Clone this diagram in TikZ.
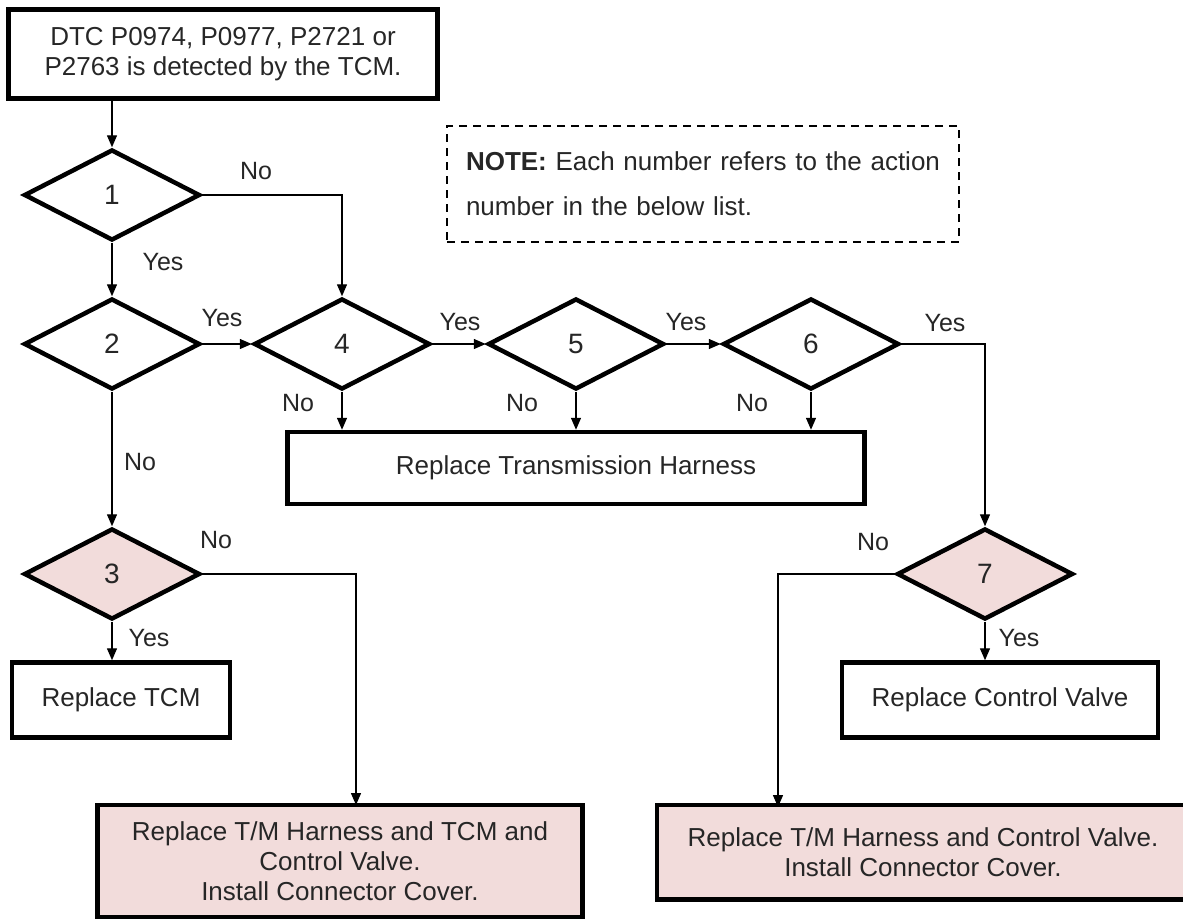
\documentclass[tikz,border=0pt]{standalone}
\usepackage{fontspec}
\setmainfont{Liberation Sans}
\usepackage{tikz}
\usetikzlibrary{shapes.geometric,arrows.meta}

\definecolor{rosa}{RGB}{242,220,219}
\definecolor{schrift}{RGB}{38,38,38}

\begin{document}
\begin{tikzpicture}[x=1pt,y=-1pt,
		font=\fontsize{26}{30}\selectfont,
		text=schrift,
		box/.style={draw,line width=4.5pt,inner sep=2pt,align=center},
		decision/.style={diamond,draw,line width=4.5pt,minimum width=176,minimum height=91,inner sep=0pt,font=\fontsize{28}{30}\selectfont},
		arr/.style={line width=1.4pt,-{Triangle[width=10pt,length=12pt]}},
		lbl/.style={font=\fontsize{25}{30}\selectfont}]
		
		%start
		\node[box,minimum width=429,minimum height=89] (start) at (223,54) {DTC P0974, P0977, P2721 or\\P2763 is detected by the TCM.};
		
		%note
		\node[draw,dashed,dash pattern=on 8pt off 6pt,line width=1.4pt,minimum width=512,minimum height=116,
			text width=474,inner xsep=19pt,align=left,font=\fontsize{26}{45}\selectfont] (note) at (703,184)
			{\textbf{NOTE:} Each number refers to the action\\number in the below list.};
		
		%decisions
		\foreach \i/\x/\y in {1/112/195,2/112/344,4/342/344,5/576/344,6/811/344}
		{
			\node[decision] (d\i) at (\x,\y) {\i};
		}
		\node[decision,fill=rosa] (d3) at (112,574) {3};
		\node[decision,fill=rosa] (d7) at (985,574) {7};
		
		%actions
		\node[box,minimum width=577,minimum height=72] (harness) at (576,468) {Replace Transmission Harness};
		\node[box,minimum width=218,minimum height=75] (tcm) at (121,700) {Replace TCM};
		\node[box,minimum width=316,minimum height=75] (cv) at (1000,700) {Replace Control Valve};
		\node[box,fill=rosa,minimum width=485,minimum height=112] (all1) at (340,861) {Replace T/M Harness and TCM and\\Control Valve.\\Install Connector Cover.};
		% runs off the right edge
		\node[box,draw=none,fill=rosa,minimum width=544,minimum height=90] (all2) at (931,852) {\hspace*{-16pt}Replace T/M Harness and Control Valve.\\\hspace*{-16pt}Install Connector Cover.};
		\draw[line width=4.5pt] (all2.north east) -- (all2.north west) -- (all2.south west) -- (all2.south east);
		\coordinate (n3) at (356,805);
		\coordinate (n7) at (778,807);
		
		%arrows
		\draw[arr] (d1.north |- start.south) -- (d1.north);
		\draw[arr] (d1.east) -| (d4.north);
		\draw[arr] (d1.south) -- (d2.north);
		\draw[arr] (d2.east) -- (d4.west);
		\draw[arr] (d4.east) -- (d5.west);
		\draw[arr] (d5.east) -- (d6.west);
		\draw[arr] (d6.east) -| (d7.north);
		\draw[arr] (d2.south) -- (d3.north);
		\draw[arr] (d3.south) -- (d3.south |- tcm.north);
		\draw[arr] (d3.east) -| (n3);
		\draw[arr] (d7.south) -- (d7.south |- cv.north);
		\draw[arr] (d7.west) -| (n7);
		\foreach \d/\x in {d4/298,d5/522,d6/752}
		{
			\draw[arr] (\d.south) -- (\d.south |- harness.north);
			\node[lbl] at (\x,403) {No};
		}
		
		%labels
		\node[lbl] at (256,171) {No};
		\node[lbl] at (163,262) {Yes};
		\node[lbl] at (222,318) {Yes};
		\node[lbl] at (460,322) {Yes};
		\node[lbl] at (686,322) {Yes};
		\node[lbl] at (945,323) {Yes};
		\node[lbl] at (140,462) {No};
		\node[lbl] at (216,540) {No};
		\node[lbl] at (149,638) {Yes};
		\node[lbl] at (873,542) {No};
		\node[lbl] at (1019,638) {Yes};
		
		%frame
		\pgfresetboundingbox
		\useasboundingbox (0,0) rectangle (1183,919);
		
	\end{tikzpicture}
\end{document}
